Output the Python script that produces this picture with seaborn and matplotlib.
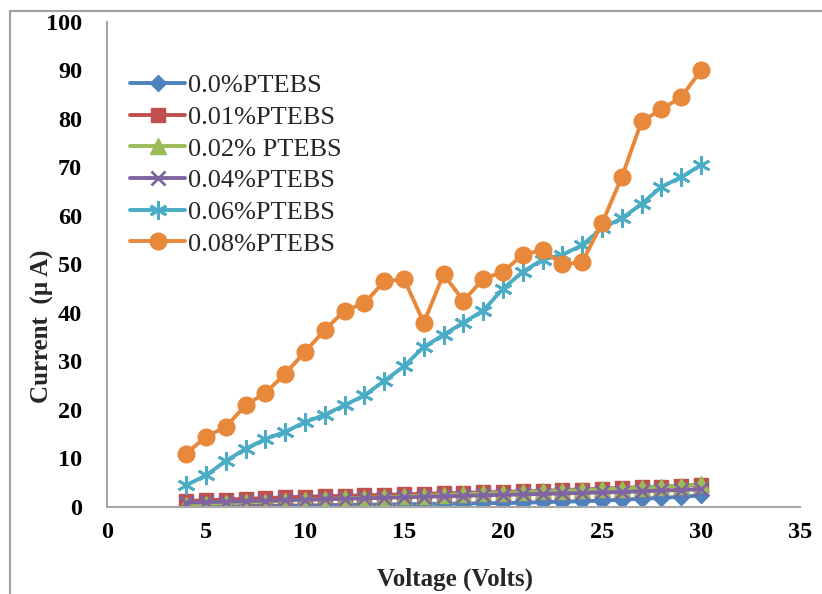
import matplotlib
matplotlib.use("Agg")
import matplotlib.pyplot as plt
import seaborn as sns
import pandas as pd
from matplotlib.lines import Line2D

voltage = list(range(4, 31))

series_names = ["0.0%PTEBS", "0.01%PTEBS", "0.02% PTEBS",
                "0.04%PTEBS", "0.06%PTEBS", "0.08%PTEBS"]

cur_000 = [0.0, 0.1, 0.1, 0.2, 0.2, 0.3, 0.3, 0.4, 0.4, 0.5, 0.5, 0.6, 0.6, 0.7,
           0.7, 0.8, 0.8, 0.9, 1.0, 1.1, 1.2, 1.3, 1.5, 1.7, 1.9, 2.1, 2.4]
cur_001 = [1.2, 1.4, 1.5, 1.7, 1.8, 2.0, 2.1, 2.2, 2.3, 2.4, 2.5, 2.6, 2.7, 2.8,
           2.9, 3.0, 3.1, 3.2, 3.3, 3.5, 3.6, 3.8, 3.9, 4.1, 4.2, 4.4, 4.6]
cur_002 = [0.4, 0.6, 0.8, 1.0, 1.1, 1.3, 1.5, 1.6, 1.8, 1.9, 2.0, 2.2, 2.3, 2.5,
           2.6, 2.8, 2.9, 3.0, 3.2, 3.3, 3.5, 3.7, 3.8, 4.0, 4.2, 4.4, 4.7]
cur_004 = [0.9, 1.0, 1.1, 1.2, 1.3, 1.4, 1.5, 1.6, 1.7, 1.8, 1.9, 2.0, 2.1, 2.2,
           2.3, 2.4, 2.5, 2.6, 2.7, 2.8, 2.9, 3.0, 3.1, 3.2, 3.4, 3.5, 3.7]
cur_006 = [4.5, 6.5, 9.5, 12.0, 14.0, 15.5, 17.5, 19.0, 21.0, 23.0, 26.0, 29.0,
           33.0, 35.5, 38.0, 40.5, 45.0, 48.5, 51.0, 52.0, 54.0, 57.5, 59.5,
           62.5, 66.0, 68.0, 70.5]
cur_008 = [11.0, 14.5, 16.5, 21.0, 23.5, 27.5, 32.0, 36.5, 40.5, 42.0, 46.5,
           47.0, 38.0, 48.0, 42.5, 47.0, 48.5, 52.0, 53.0, 50.0, 50.5, 58.5,
           68.0, 79.5, 82.0, 84.5, 90.0]

all_values = [cur_000, cur_001, cur_002, cur_004, cur_006, cur_008]

x_ticks = [0, 5, 10, 15, 20, 25, 30, 35]
y_ticks = [0, 10, 20, 30, 40, 50, 60, 70, 80, 90, 100]

colors = ["#4F81BD", "#C0504D", "#9BBB59", "#8064A2", "#4BACC6", "#E8883A"]
markers = ["D", "s", "^", "x", (6, 2, 0), "o"]
msizes = [8, 10, 11, 10, 13, 12]
mews = [1, 1, 1, 2, 2, 1]

sns.set_style("white")
plt.rcParams["font.family"] = ["Liberation Serif", "DejaVu Serif"]

fig = plt.figure(figsize=(8.22, 5.94), dpi=100)
ax = fig.add_axes([0.1302, 0.1465, 0.8430, 0.8165])

frames = []
for name, vals in zip(series_names, all_values):
    frames.append(pd.DataFrame({"Voltage": voltage, "Current": vals, "Series": name}))
df = pd.concat(frames, ignore_index=True)

for i in range(6):
    sub = df[df["Series"] == series_names[i]]
    sns.lineplot(data=sub, x="Voltage", y="Current", ax=ax, color=colors[i],
                 marker=markers[i], markersize=msizes[i], markeredgewidth=mews[i],
                 markeredgecolor=colors[i], linewidth=2.8, legend=False,
                 estimator=None, sort=False)

ax.set_xlim(0, 35)
ax.set_ylim(0, 100)
ax.set_xticks(x_ticks)
ax.set_yticks(y_ticks)
ax.set_xticklabels([str(t) for t in x_ticks], fontsize=17.5, fontweight="bold")
ax.set_yticklabels([str(t) for t in y_ticks], fontsize=17.5, fontweight="bold")
ax.tick_params(axis="both", length=0, colors="black")
ax.tick_params(axis="y", pad=18)
ax.tick_params(axis="x", pad=11)

for side in ["top", "right"]:
    ax.spines[side].set_visible(False)
for side in ["left", "bottom"]:
    ax.spines[side].set_color("#A6A6A6")
    ax.spines[side].set_linewidth(1.5)
ax.grid(False)

ax.set_xlabel("Voltage (Volts)", fontsize=18, fontweight="bold")
ax.set_ylabel("Current  (\u00b5 A)", fontsize=18, fontweight="bold")
ax.xaxis.set_label_coords(0.502, -0.124)
ax.yaxis.set_label_coords(-0.076, 0.373)

handles = [Line2D([0], [0], color=colors[i], marker=markers[i], markersize=msizes[i],
                  markeredgewidth=mews[i], markeredgecolor=colors[i], linewidth=2.8)
           for i in range(6)]
leg = ax.legend(handles, series_names, loc="upper left", bbox_to_anchor=(0.033, 0.893),
                frameon=False, fontsize=19, handlelength=2.1, handletextpad=0.1,
                labelspacing=0.31, borderpad=0, borderaxespad=0)

# outer frame lines (left and top)
fig.add_artist(Line2D([10 / 822, 10 / 822], [0, 1 - 11 / 594], color="#A0A0A0",
                      linewidth=1.5, transform=fig.transFigure))
fig.add_artist(Line2D([10 / 822, 1], [1 - 11 / 594, 1 - 11 / 594], color="#A0A0A0",
                      linewidth=1.5, transform=fig.transFigure))

fig.savefig("out.png", dpi=100)
